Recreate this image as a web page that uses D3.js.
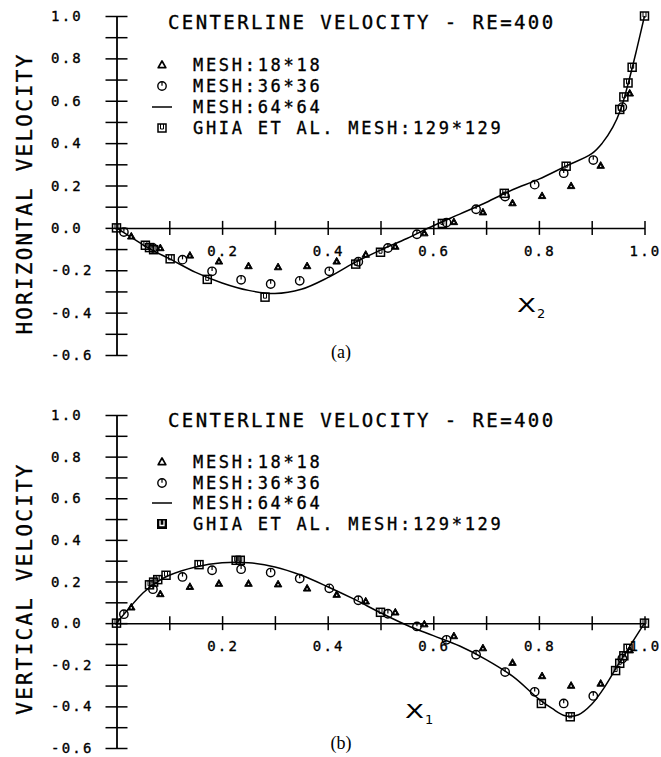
<!DOCTYPE html>
<html><head><meta charset="utf-8">
<script src="https://cdn.jsdelivr.net/npm/d3@7"></script>
<style>body{margin:0;background:#fff}</style>
</head><body>
<svg id="c" width="661" height="757"></svg>
<script>
// ---------- data ----------
const yTickValues = [1.0, 0.8, 0.6, 0.4, 0.2, 0.0, -0.2, -0.4, -0.6];
const yTickLabels = ["1.0", "0.8", "0.6", "0.4", "0.2", "0.0", "-0.2", "-0.4", "-0.6"];
const yMinorTicks = [1.0,0.9,0.8,0.7,0.6,0.5,0.4,0.3,0.2,0.1,0.0,-0.1,-0.2,-0.3,-0.4,-0.5,-0.6];
const xMinorTicks = [0.1,0.2,0.3,0.4,0.5,0.6,0.7,0.8,0.9,1.0];
const xTickValues = [0.2, 0.4, 0.6, 0.8, 1.0];
const xTickLabels = ["0.2", "0.4", "0.6", "0.8", "1.0"];
const titleText = "CENTERLINE VELOCITY - RE=400";
const legendLabels = ["MESH:18*18", "MESH:36*36", "MESH:64*64", "GHIA ET AL. MESH:129*129"];

// (a) horizontal velocity along vertical centerline
const uLineY = [0,0.025,0.05,0.075,0.1,0.15,0.2,0.25,0.3,0.35,0.4,0.45,0.5,0.55,0.6,0.65,0.7,0.75,0.8,0.85,0.9,0.92,0.94,0.955,0.97,0.985,1.0];
const uLineU = [0,-0.04,-0.08,-0.115,-0.145,-0.21,-0.26,-0.295,-0.31,-0.29,-0.235,-0.165,-0.105,-0.05,0.01,0.065,0.12,0.18,0.23,0.29,0.35,0.4,0.475,0.56,0.69,0.84,1.0];
const triXa = [0.028,0.083,0.139,0.194,0.25,0.306,0.361,0.417,0.472,0.528,0.583,0.639,0.694,0.75,0.806,0.861,0.917,0.972];
const triUa = [-0.04,-0.095,-0.13,-0.158,-0.18,-0.185,-0.18,-0.158,-0.126,-0.088,-0.025,0.028,0.074,0.117,0.151,0.198,0.294,0.635];
const cirXa = [0.014,0.069,0.125,0.181,0.236,0.292,0.347,0.403,0.458,0.514,0.569,0.625,0.681,0.736,0.792,0.847,0.903,0.958];
const cirUa = [-0.02,-0.095,-0.15,-0.205,-0.245,-0.265,-0.25,-0.205,-0.16,-0.095,-0.03,0.025,0.088,0.148,0.204,0.258,0.32,0.57];
const sqXa = [0,0.0547,0.0625,0.0703,0.1016,0.1719,0.2813,0.4531,0.5,0.6172,0.7344,0.8516,0.9531,0.9609,0.9688,0.9766,1.0];
const sqUa = [0,-0.082,-0.093,-0.103,-0.146,-0.243,-0.327,-0.171,-0.115,0.021,0.163,0.291,0.559,0.618,0.684,0.758,1.0];

// (b) vertical velocity along horizontal centerline
const vLineX = [0,0.025,0.05,0.075,0.1,0.15,0.2,0.25,0.3,0.35,0.4,0.45,0.5,0.55,0.6,0.65,0.7,0.75,0.8,0.825,0.85,0.875,0.9,0.925,0.95,0.975,1.0];
const vLineV = [0,0.075,0.145,0.195,0.23,0.27,0.29,0.29,0.27,0.23,0.175,0.115,0.05,-0.01,-0.06,-0.11,-0.175,-0.255,-0.365,-0.41,-0.445,-0.44,-0.39,-0.305,-0.2,-0.1,0];
const triXb = [0.028,0.083,0.139,0.194,0.25,0.306,0.361,0.417,0.472,0.528,0.583,0.639,0.694,0.75,0.806,0.861,0.917,0.972];
const triVb = [0.076,0.14,0.175,0.19,0.19,0.187,0.167,0.137,0.105,0.052,-0.005,-0.062,-0.12,-0.19,-0.254,-0.3,-0.29,-0.13];
const cirXb = [0.014,0.069,0.125,0.181,0.236,0.292,0.347,0.403,0.458,0.514,0.569,0.625,0.681,0.736,0.792,0.847,0.903,0.958];
const cirVb = [0.043,0.163,0.222,0.254,0.259,0.243,0.214,0.167,0.11,0.045,-0.016,-0.08,-0.152,-0.235,-0.33,-0.386,-0.35,-0.17];
const sqXb = [0,0.0625,0.0703,0.0781,0.0938,0.1563,0.2266,0.2344,0.5,0.8047,0.8594,0.9453,0.9531,0.9609,0.9688,1.0];
const sqVb = [0,0.184,0.197,0.209,0.230,0.281,0.302,0.302,0.052,-0.386,-0.450,-0.228,-0.193,-0.157,-0.121,0];

// ---------- drawing ----------
const svg = d3.select("#c");
const MONO = "'DejaVu Sans Mono', monospace";
const x = d3.scaleLinear([0, 1], [116.5, 644.5]);

function tri(g, cx, cy, hollow) {
  if (hollow) {
    g.append("path").attr("d", `M${cx},${cy-4}L${cx+3.8},${cy+2.7}L${cx-3.8},${cy+2.7}Z`)
      .attr("fill", "#fff").attr("stroke", "#000").attr("stroke-width", 1.7).attr("stroke-linejoin", "round");
  } else {
    g.append("path").attr("d", `M${cx},${cy-4}L${cx+3.8},${cy+2.7}L${cx-3.8},${cy+2.7}Z`)
      .attr("fill", "#000").attr("stroke", "#000").attr("stroke-width", 1).attr("stroke-linejoin", "round");
    g.append("circle").attr("cx", cx).attr("cy", cy + 0.6).attr("r", 0.8).attr("fill", "#fff");
  }
}
function cir(g, cx, cy) {
  g.append("circle").attr("cx", cx).attr("cy", cy).attr("r", 4.2)
    .attr("fill", "none").attr("stroke", "#000").attr("stroke-width", 1.4);
  g.append("path").attr("d", `M${cx},${cy-4.2}V${cy-0.3}`).attr("stroke", "#000").attr("stroke-width", 1.2);
}
function sq(g, cx, cy, filled) {
  if (filled) {
    g.append("rect").attr("x", cx-5).attr("y", cy-5).attr("width", 10).attr("height", 10).attr("fill", "#000");
    g.append("path").attr("d", `M${cx-2},${cy-3.5}V${cy+1.5}H${cx+2}V${cy-3.5}`)
      .attr("fill", "none").attr("stroke", "#fff").attr("stroke-width", 1.3);
  } else {
    g.append("rect").attr("x", cx-4).attr("y", cy-4).attr("width", 8).attr("height", 8)
      .attr("fill", "none").attr("stroke", "#000").attr("stroke-width", 1.5);
    g.append("path").attr("d", `M${cx-1.5},${cy-4}V${cy+1}H${cx+1.5}V${cy-4}`)
      .attr("fill", "none").attr("stroke", "#000").attr("stroke-width", 1);
  }
}

function styleText(sel, size, ls) {
  return sel.attr("font-family", MONO).attr("font-size", size).attr("letter-spacing", ls)
    .attr("stroke", "#000").attr("stroke-width", 0.35);
}

function panel(cfg) {
  const y = d3.scaleLinear([-0.6, 1], cfg.yRange);
  const g = svg.append("g");

  // y axis
  const ga = g.append("g").attr("transform", `translate(${x(0)},0)`)
    .call(d3.axisLeft(y).tickValues(yMinorTicks).tickSize(11).tickSizeOuter(0).tickFormat(""));
  ga.select(".domain").attr("stroke-width", 1.8);
  ga.selectAll(".tick line").attr("x1", 11).attr("stroke-width", 1.5);

  styleText(g.selectAll(".ylab").data(yTickValues).join("text")
    .attr("x", 51).attr("y", d => y(d)).attr("dy", "0.36em"), 14, 2.2)
    .text((d, i) => yTickLabels[i]);

  // x axis
  const gx = g.append("g").attr("transform", `translate(0,${y(0)})`)
    .call(d3.axisBottom(x).tickValues(xMinorTicks).tickSize(7).tickSizeOuter(0).tickFormat(""));
  gx.select(".domain").attr("stroke-width", 1.5);
  gx.selectAll(".tick line").attr("y1", -7).attr("stroke-width", 1.5);

  styleText(g.selectAll(".xlab").data(xTickValues).join("text")
    .attr("x", d => x(d) + 1).attr("y", y(0) + 23).attr("dy", "0.36em")
    .attr("text-anchor", "middle"), 14, 2.2)
    .text((d, i) => xTickLabels[i]);

  // title
  styleText(g.append("text").attr("x", 168).attr("y", cfg.titleY), 19, 2.4).text(titleText);

  // legend
  const lg = g.append("g");
  cfg.legendY.forEach((ly, i) => {
    styleText(lg.append("text").attr("x", 193).attr("y", ly).attr("dy", "0.36em"), 17, 2.7)
      .text(legendLabels[i]);
  });
  tri(lg, 162, cfg.legendY[0], true);
  cir(lg, 162, cfg.legendY[1]);
  lg.append("path").attr("d", `M152,${cfg.legendY[2]}H172`).attr("stroke", "#000").attr("stroke-width", 1.5);
  sq(lg, 162, cfg.legendY[3], cfg.filledLegendSq);

  // y label
  styleText(g.append("text").attr("transform", `translate(32,${cfg.ylabY}) rotate(-90)`)
    .attr("text-anchor", "middle"), 21, 2.2)
    .text(cfg.ylabel);

  // solution line (64x64)
  const line = d3.line().x(d => x(d[0])).y(d => y(d[1])).curve(d3.curveCatmullRom.alpha(0.5));
  g.append("path").datum(d3.zip(cfg.lineX, cfg.lineV)).attr("d", line)
    .attr("fill", "none").attr("stroke", "#000").attr("stroke-width", 1.5);

  // markers
  const mg = g.append("g");
  cfg.triX.forEach((v, i) => tri(mg, x(v), y(cfg.triV[i]), false));
  cfg.cirX.forEach((v, i) => cir(mg, x(v), y(cfg.cirV[i])));
  cfg.sqX.forEach((v, i) => sq(mg, x(v), y(cfg.sqV[i]), false));

  // panel label
  g.append("text").attr("x", 341).attr("y", cfg.panelY).attr("text-anchor", "middle")
    .attr("font-family", "'Liberation Serif', serif").attr("font-size", 18)
    .text(cfg.panel);

  // x variable label
  g.append("text").attr("x", cfg.xlab[0]).attr("y", cfg.xlab[1])
    .attr("font-family", "'DejaVu Sans', sans-serif").attr("font-size", 20)
    .attr("textLength", 19).attr("lengthAdjust", "spacingAndGlyphs").text("X");
  g.append("text").attr("x", cfg.xlab[0] + 20).attr("y", cfg.xlab[1] + 6)
    .attr("font-family", "'DejaVu Sans', sans-serif").attr("font-size", 13)
    .text(cfg.xsub);
}

panel({
  yRange: [355, 16], titleY: 29, legendY: [65, 86, 107, 128], filledLegendSq: false,
  ylabel: "HORIZONTAL VELOCITY", ylabY: 193.5,
  lineX: uLineY, lineV: uLineU,
  triX: triXa, triV: triUa, cirX: cirXa, cirV: cirUa, sqX: sqXa, sqV: sqUa,
  panel: "(a)", panelY: 358, xlab: [517, 312], xsub: "2"
});
panel({
  yRange: [748, 415], titleY: 427, legendY: [462, 483, 503, 524], filledLegendSq: true,
  ylabel: "VERTICAL VELOCITY", ylabY: 588.5,
  lineX: vLineX, lineV: vLineV,
  triX: triXb, triV: triVb, cirX: cirXb, cirV: cirVb, sqX: sqXb, sqV: sqVb,
  panel: "(b)", panelY: 749, xlab: [405, 718], xsub: "1"
});
</script></body></html>
